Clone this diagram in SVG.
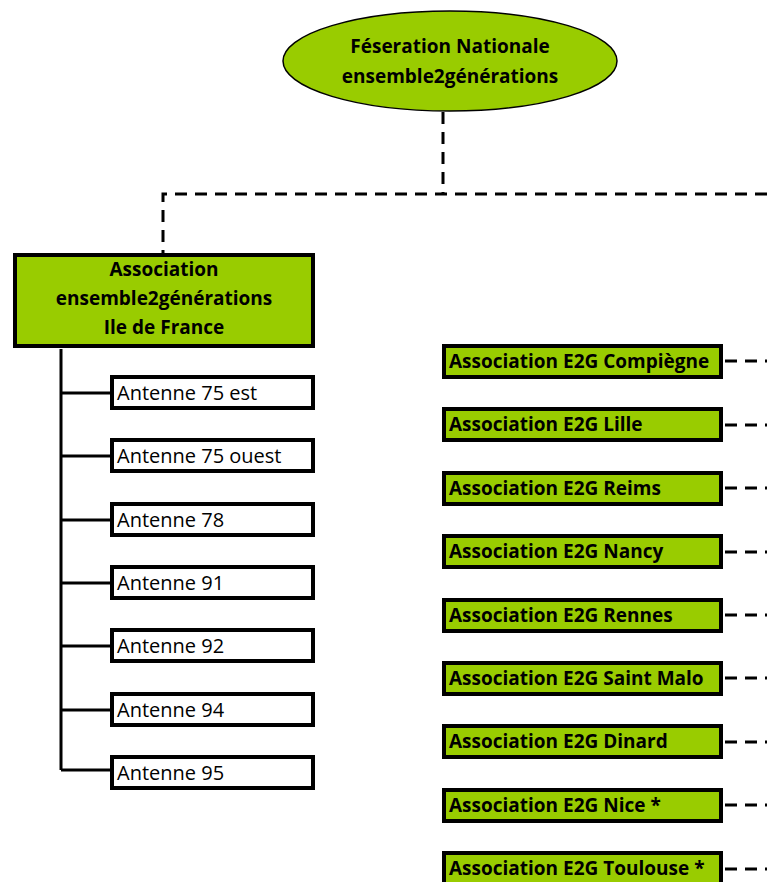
<svg xmlns="http://www.w3.org/2000/svg" width="767" height="882" viewBox="0 0 767 882">
<style>
.b{font-family:"Open Sans","Liberation Sans",sans-serif;font-weight:bold;font-size:19px;fill:#000}
.n{font-family:"Open Sans","Liberation Sans",sans-serif;font-size:20px;fill:#000}
.g{fill:#99cc00;stroke:#000;stroke-width:4}
.w{fill:#fff;stroke:#000;stroke-width:4}
.d{fill:none;stroke:#000;stroke-width:3;stroke-dasharray:12 8}
.s{fill:none;stroke:#000;stroke-width:3}
</style>
<rect width="767" height="882" fill="#fff"/>
<g id="connectors">
<path class="d" d="M443 112 V194"/>
<path class="d" d="M767 194 H163 V253"/>
<path class="s" d="M61 349 V770"/>
<path class="s" d="M61 393 H111 M61 456 H111 M61 520 H111 M61 583 H111 M61 646 H111 M61 710 H111 M61 770 H111"/>
<path class="d" d="M725 361 H767 M725 425 H767 M725 488 H767 M725 552 H767 M725 615 H767 M725 678 H767 M725 742 H767 M725 805 H767 M725 869 H767"/>
</g>
<g id="federation">
<ellipse cx="450" cy="61" rx="167" ry="50" fill="#99cc00" stroke="#000" stroke-width="1.5"/>
<text class="b" x="450" y="53" text-anchor="middle">Féseration Nationale</text>
<text class="b" x="450" y="83" text-anchor="middle">ensemble2générations</text>
</g>
<g id="idf">
<rect class="g" x="15" y="255" width="298" height="91"/>
<text class="b" x="164" y="276" text-anchor="middle">Association</text>
<text class="b" x="164" y="305" text-anchor="middle">ensemble2générations</text>
<text class="b" x="164" y="334" text-anchor="middle">Ile de France</text>
</g>
<g id="a75est"><rect class="w" x="112" y="377" width="201" height="31"/><text class="n" x="117" y="400">Antenne 75 est</text></g>
<g id="a75ouest"><rect class="w" x="112" y="440" width="201" height="31"/><text class="n" x="117" y="463">Antenne 75 ouest</text></g>
<g id="a78"><rect class="w" x="112" y="504" width="201" height="31"/><text class="n" x="117" y="527">Antenne 78</text></g>
<g id="a91"><rect class="w" x="112" y="567" width="201" height="31"/><text class="n" x="117" y="590">Antenne 91</text></g>
<g id="a92"><rect class="w" x="112" y="630" width="201" height="31"/><text class="n" x="117" y="653">Antenne 92</text></g>
<g id="a94"><rect class="w" x="112" y="694" width="201" height="31"/><text class="n" x="117" y="717">Antenne 94</text></g>
<g id="a95"><rect class="w" x="112" y="757" width="201" height="31"/><text class="n" x="117" y="780">Antenne 95</text></g>
<g id="compiegne"><rect class="g" x="444" y="346" width="277" height="31"/><text class="b" x="449" y="368">Association E2G Compiègne</text></g>
<g id="lille"><rect class="g" x="444" y="409" width="277" height="31"/><text class="b" x="449" y="431">Association E2G Lille</text></g>
<g id="reims"><rect class="g" x="444" y="473" width="277" height="31"/><text class="b" x="449" y="495">Association E2G Reims</text></g>
<g id="nancy"><rect class="g" x="444" y="536" width="277" height="31"/><text class="b" x="449" y="558">Association E2G Nancy</text></g>
<g id="rennes"><rect class="g" x="444" y="600" width="277" height="31"/><text class="b" x="449" y="622">Association E2G Rennes</text></g>
<g id="saintmalo"><rect class="g" x="444" y="663" width="277" height="31"/><text class="b" x="449" y="685">Association E2G Saint Malo</text></g>
<g id="dinard"><rect class="g" x="444" y="726" width="277" height="31"/><text class="b" x="449" y="748">Association E2G Dinard</text></g>
<g id="nice"><rect class="g" x="444" y="790" width="277" height="31"/><text class="b" x="449" y="812">Association E2G Nice *</text></g>
<g id="toulouse"><rect class="g" x="444" y="853" width="277" height="31"/><text class="b" x="449" y="875">Association E2G Toulouse *</text></g>
</svg>
